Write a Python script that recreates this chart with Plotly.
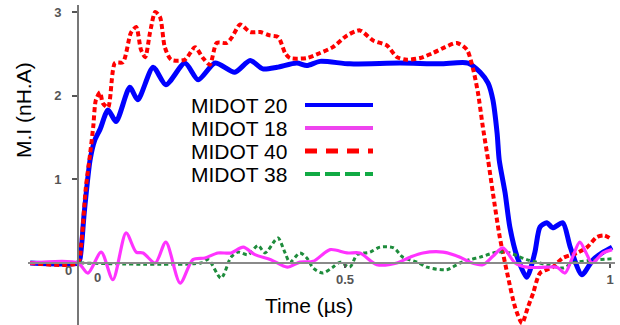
import plotly.graph_objects as go

# ---------------- data (time in µs, M.I in nH.A) ----------------
t_midot20 = [-0.094, -0.004, 0.000, 0.008, 0.019, 0.028, 0.038, 0.053, 0.068, 0.094, 0.109, 0.138,
             0.162, 0.198, 0.223, 0.255, 0.292, 0.321, 0.345, 0.372, 0.409, 0.428, 0.453, 0.509,
             0.604, 0.679, 0.732, 0.755, 0.770, 0.779, 0.787, 0.791, 0.802, 0.811, 0.825, 0.843,
             0.858, 0.868, 0.881, 0.892, 0.911, 0.925, 0.947, 0.968, 0.987, 1.004]
v_midot20 = [0.0, 0.0, 0.05, 0.6, 1.23, 1.47, 1.6, 1.83, 1.69, 2.10, 1.95, 2.34,
             2.13, 2.39, 2.19, 2.39, 2.28, 2.42, 2.32, 2.34, 2.39, 2.36, 2.41, 2.38,
             2.39, 2.38, 2.39, 2.28, 2.15, 1.95, 1.55, 1.23, 0.84, 0.43, 0.07, -0.17,
             0.12, 0.43, 0.48, 0.42, 0.48, 0.19, -0.14, 0.04, 0.13, 0.19]

t_midot18 = [-0.094, -0.004, 0.015, 0.040, 0.062, 0.087, 0.106, 0.119, 0.142, 0.162, 0.189, 0.213,
             0.236, 0.260, 0.285, 0.308, 0.330, 0.360, 0.391, 0.415, 0.440, 0.472, 0.504, 0.528,
             0.560, 0.598, 0.623, 0.647, 0.685, 0.717, 0.736, 0.760, 0.779, 0.798, 0.821, 0.843,
             0.881, 0.900, 0.915, 0.928, 0.943, 0.955, 0.966, 0.987, 1.004]
v_midot18 = [0.0, 0.0, -0.12, 0.13, -0.20, 0.36, 0.13, 0.12, 0.0, 0.25, -0.24, 0.04,
             0.06, 0.12, 0.12, 0.19, 0.10, 0.04, -0.05, 0.01, 0.02, 0.16, 0.12, 0.12,
             -0.02, 0.0, 0.07, 0.12, 0.13, 0.07, 0.01, -0.02, 0.08, 0.18, 0.0, -0.05,
             -0.05, -0.05, -0.12, 0.05, 0.25, 0.12, 0.0, 0.12, 0.16]

t_midot40 = [-0.094, -0.004, 0.002, 0.011, 0.019, 0.025, 0.030, 0.038, 0.043, 0.053, 0.066, 0.081,
             0.096, 0.106, 0.115, 0.123, 0.132, 0.142, 0.151, 0.160, 0.172, 0.198, 0.217, 0.232,
             0.245, 0.258, 0.277, 0.287, 0.302, 0.321, 0.340, 0.358, 0.374, 0.387, 0.396, 0.428,
             0.453, 0.477, 0.504, 0.528, 0.553, 0.579, 0.598, 0.617, 0.642, 0.666, 0.689, 0.711,
             0.730, 0.742, 0.751, 0.760, 0.770, 0.779, 0.792, 0.806, 0.821, 0.834, 0.845, 0.855,
             0.868, 0.892, 0.911, 0.938, 0.957, 0.975, 0.989, 1.004]
v_midot40 = [0.0, 0.0, 0.2, 0.9, 1.3, 1.63, 1.95, 2.04, 1.91, 1.86, 2.39, 2.40,
             2.75, 2.82, 2.55, 2.46, 2.75, 3.00, 2.94, 2.58, 2.43, 2.43, 2.58, 2.45,
             2.37, 2.63, 2.63, 2.70, 2.85, 2.76, 2.76, 2.72, 2.70, 2.51, 2.45, 2.45,
             2.51, 2.58, 2.72, 2.78, 2.66, 2.60, 2.46, 2.43, 2.45, 2.51, 2.58, 2.63,
             2.55, 2.31, 2.03, 1.63, 1.23, 0.84, 0.31, -0.12, -0.53, -0.72, -0.53, -0.36,
             -0.12, -0.05, 0.06, 0.12, 0.19, 0.31, 0.33, 0.28]

t_midot38 = [0.000, 0.228, 0.242, 0.266, 0.285, 0.298, 0.317, 0.336, 0.349, 0.368, 0.374, 0.387,
             0.396, 0.415, 0.428, 0.440, 0.458, 0.477, 0.491, 0.509, 0.523, 0.547, 0.566, 0.592,
             0.609, 0.636, 0.655, 0.692, 0.717, 0.736, 0.755, 0.787, 0.811, 0.843, 0.881, 0.911,
             0.930, 0.962, 1.004]
v_midot38 = [0.0, 0.0, 0.04, -0.18, 0.07, 0.13, 0.10, 0.21, 0.12, 0.27, 0.30, 0.12,
             0.01, 0.12, 0.06, -0.06, -0.12, -0.05, 0.01, -0.05, 0.10, 0.13, 0.19, 0.18,
             0.07, 0.01, -0.05, -0.08, 0.0, 0.04, 0.07, 0.13, 0.12, 0.04, -0.02, -0.06,
             0.0, 0.03, 0.05]

series_names = ["MIDOT 20", "MIDOT 18", "MIDOT 40", "MIDOT 38"]
x_tick_vals = [0.5, 1]
x_tick_text = ["0.5", "1"]
y_tick_vals = [1, 2, 3]
y_tick_text = ["1", "2", "3"]

# ---------------- layout geometry ----------------
W, H = 620, 325
L, R, T, B = 28, 5, 5, 0
PW, PH = W - L - R, H - T - B
FONT = "Liberation Sans, Arial, sans-serif"


def px_x(p):
    return (p - L) / PW


def px_y(p):
    return (H - B - p) / PH


fig = go.Figure()
fig.add_trace(go.Scatter(x=t_midot20, y=v_midot20, mode="lines", name=series_names[0],
                         line=dict(color="#0000ff", width=5, shape="spline", smoothing=0.7)))
fig.add_trace(go.Scatter(x=t_midot40, y=v_midot40, mode="lines", name=series_names[2],
                         line=dict(color="#ff0000", width=4, dash="5px,3px", shape="spline", smoothing=0.7)))
fig.add_trace(go.Scatter(x=t_midot38, y=v_midot38, mode="lines", name=series_names[3],
                         line=dict(color="#1e8c3c", width=3, dash="4px,3px", shape="spline", smoothing=0.8)))
fig.add_trace(go.Scatter(x=t_midot18, y=v_midot18, mode="lines", name=series_names[1],
                         line=dict(color="#ff33ff", width=3.2, shape="spline", smoothing=0.8)))

fig.update_layout(
    width=W, height=H,
    margin=dict(l=L, r=R, t=T, b=B, pad=0),
    paper_bgcolor="white", plot_bgcolor="white",
    showlegend=False,
    font=dict(family=FONT, color="#000"),
    xaxis=dict(range=[(L - 80) / 530, (W - R - 80) / 530], anchor="free", position=px_y(263),
               showgrid=False, zeroline=False, showline=True, linecolor="#8a8a8a", linewidth=2,
               ticks="outside", ticklen=4, tickcolor="#555", tickwidth=1.5,
               tickvals=x_tick_vals, ticktext=x_tick_text,
               tickfont=dict(family=FONT, size=13, color="#555", weight="bold")),
    yaxis=dict(range=[(263 - (H - B)) / 83.67, (263 - T) / 83.67], anchor="free", position=px_x(78),
               showgrid=False, zeroline=False, showline=True, linecolor="#777", linewidth=2,
               ticks="outside", ticklen=5, tickcolor="#555", tickwidth=1.5,
               tickvals=y_tick_vals, ticktext=y_tick_text, ticklabelstandoff=8,
               tickfont=dict(family=FONT, size=13, color="#555", weight="bold")),
)

ann = []
# extra "0" labels near origin
ann.append(dict(x=px_x(68), y=px_y(270), xref="paper", yref="paper", text="<b>0</b>", showarrow=False,
                font=dict(family=FONT, size=13, color="#555"), xanchor="center", yanchor="middle"))
ann.append(dict(x=px_x(97), y=px_y(277), xref="paper", yref="paper", text="<b>0</b>", showarrow=False,
                font=dict(family=FONT, size=13, color="#555"), xanchor="center", yanchor="middle"))
# axis titles
ann.append(dict(x=px_x(309), y=px_y(305), xref="paper", yref="paper", text="Time (µs)", showarrow=False,
                font=dict(family=FONT, size=21, color="#000"), xanchor="center", yanchor="middle"))
ann.append(dict(x=px_x(23), y=px_y(110), xref="paper", yref="paper", text="M.I (nH.A)", showarrow=False,
                textangle=-90, font=dict(family=FONT, size=21, color="#000"),
                xanchor="center", yanchor="middle"))

# custom legend (text before line sample)
leg_rows = [105, 128, 151, 174]
leg_styles = [dict(color="#0000ff", width=4, dash="solid"),
              dict(color="#ee44ee", width=4, dash="solid"),
              dict(color="#ff0000", width=5, dash="12px,9px"),
              dict(color="#11aa44", width=4, dash="15px,5px")]
shapes = []
# vertical axis line (drawn explicitly so it is always visible)
shapes.append(dict(type="line", xref="paper", yref="paper", x0=px_x(78), x1=px_x(78),
                   y0=0, y1=px_y(11), line=dict(color="#777", width=2), layer="below"))
for name, yy, st in zip(series_names, leg_rows, leg_styles):
    ann.append(dict(x=px_x(189), y=px_y(yy), xref="paper", yref="paper", text=name, showarrow=False,
                    font=dict(family=FONT, size=21, color="#000"), xanchor="left", yanchor="middle"))
    shapes.append(dict(type="line", xref="paper", yref="paper", x0=px_x(305), x1=px_x(373),
                       y0=px_y(yy), y1=px_y(yy), line=st))

fig.update_layout(annotations=ann, shapes=shapes)
fig.write_html("out.html", config={"displayModeBar": False},
               post_script="document.body.style.margin='0';document.body.style.overflow='hidden';")
